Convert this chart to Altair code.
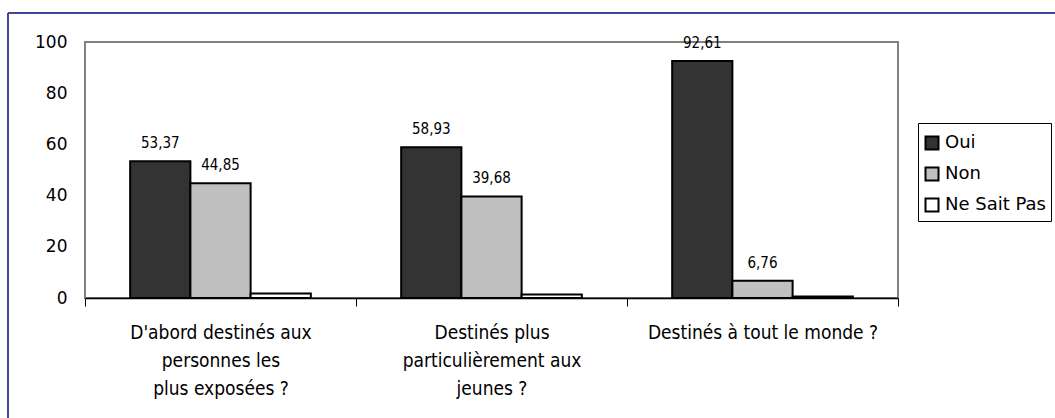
import altair as alt
import pandas as pd

# Survey answers per question (percent)
categories = [
    "D'abord destinés aux\npersonnes les\nplus exposées ?",
    "Destinés plus\nparticulièrement aux\njeunes ?",
    "Destinés à tout le monde ?",
]
series = ["Oui", "Non", "Ne Sait Pas"]
oui = [53.37, 58.93, 92.61]
non = [44.85, 39.68, 6.76]
nsp = [1.78, 1.39, 0.63]
colors = ["#333333", "#c0c0c0", "#ffffff"]
y_ticks = [0, 20, 40, 60, 80, 100]

rows = []
for i, q in enumerate(categories):
    for s, vals in zip(series, [oui, non, nsp]):
        rows.append({"question": q, "reponse": s, "valeur": vals[i]})
df = pd.DataFrame(rows)

x_enc = alt.X(
    "question:N",
    sort=categories,
    scale=alt.Scale(paddingInner=0, paddingOuter=0),
    axis=alt.Axis(
        title=None,
        labelAngle=0,
        labelExpr="split(datum.label, '\\n')",
        labelFont="DejaVu Sans Condensed",
        labelFontSize=19,
        labelLineHeight=28,
        labelColor="#000000",
        labelLimit=0,
        labelPadding=17,
        tickBand="extent",
        tickSize=8,
        tickColor="#000000",
        tickWidth=1,
        domainColor="#000000",
        domainWidth=1.5,
        grid=False,
    ),
)
off_enc = alt.XOffset(
    "reponse:N",
    sort=series,
    scale=alt.Scale(paddingInner=0, paddingOuter=0.75),
)
y_enc = alt.Y(
    "valeur:Q",
    scale=alt.Scale(domain=[0, 100], nice=False),
    axis=alt.Axis(
        title=None,
        values=y_ticks,
        domain=False,
        ticks=False,
        grid=False,
        labelFont="DejaVu Sans",
        labelFontSize=17,
        labelColor="#000000",
        labelPadding=18,
    ),
)

bars = alt.Chart(df).mark_bar(stroke="#000000", strokeWidth=2).encode(
    x=x_enc,
    xOffset=off_enc,
    y=y_enc,
    color=alt.Color(
        "reponse:N",
        sort=series,
        scale=alt.Scale(domain=series, range=colors),
        legend=alt.Legend(
            title=" ",
            titleFontSize=6,
            titlePadding=0,
            orient="none",
            legendX=833,
            legendY=81,
            padding=5,
            strokeColor="#000000",
            fillColor="#ffffff",
            symbolType="square",
            symbolSize=169,
            symbolStrokeColor="#000000",
            symbolStrokeWidth=2,
            labelFont="DejaVu Sans",
            labelFontSize=18,
            labelColor="#000000",
            labelOffset=4,
            rowPadding=9,
        ),
    ),
)

labels = (
    alt.Chart(df)
    .transform_filter("datum.reponse != 'Ne Sait Pas'")
    .transform_calculate(txt="replace(format(datum.valeur, '.2f'), '.', ',')")
    .mark_text(dy=-18, font="DejaVu Sans Condensed", fontSize=15, color="#000000", baseline="middle")
    .encode(x=alt.X("question:N", sort=categories), xOffset=alt.XOffset("reponse:N", sort=series), y="valeur:Q", text="txt:N")
)

# Outer frame of the figure (top and left edges)
one = pd.DataFrame({"k": [0]})
frame_top = alt.Chart(one).mark_rule(color="#44449a", strokeWidth=2).encode(
    x=alt.value(-77), x2=alt.value(980), y=alt.value(-29)
)
frame_left = alt.Chart(one).mark_rule(color="#44449a", strokeWidth=2).encode(
    x=alt.value(-77), y=alt.value(-29), y2=alt.value(390)
)

chart = (
    alt.layer(bars, labels, frame_top, frame_left)
    .properties(
        width=813,
        height=256,
        autosize="none",
        padding={"left": 85, "top": 42, "right": 157, "bottom": 120},
        background="#ffffff",
    )
    .configure_view(stroke="#808080", strokeWidth=2)
)

chart.save("out.html", embed_options={"renderer": "svg", "actions": False})
